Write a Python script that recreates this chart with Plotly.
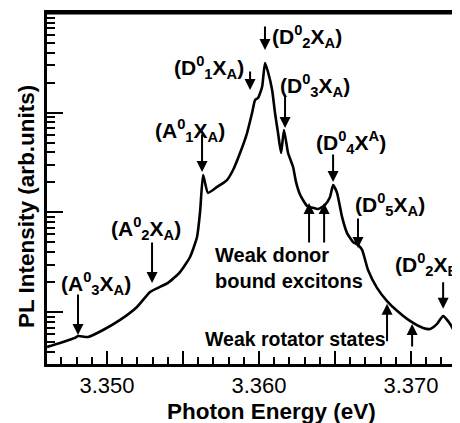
import math
import plotly.graph_objects as go

# ---- data ----
energy = [3.34605, 3.34691, 3.34789, 3.34809, 3.34875, 3.34974, 3.35086, 3.35197,
          3.35283, 3.35336, 3.35401, 3.35480, 3.35546, 3.35592, 3.35612, 3.35632,
          3.35664, 3.35724, 3.35789, 3.35829, 3.35875, 3.35921, 3.35954, 3.35974,
          3.35993, 3.36020, 3.36039, 3.36059, 3.36086, 3.36105, 3.36125, 3.36145,
          3.36164, 3.36191, 3.36224, 3.36243, 3.36270, 3.36316, 3.36355, 3.36388,
          3.36434, 3.36467, 3.36487, 3.36513, 3.36546, 3.36579, 3.36618, 3.36651,
          3.36678, 3.36717, 3.36776, 3.36842, 3.36908, 3.36993, 3.37079, 3.37125,
          3.37171, 3.37211, 3.37257, 3.37303, 3.37336]
intensity = [4.47, 4.90, 5.50, 5.75, 5.62, 6.61, 8.34, 11.25,
             15.9, 17.5, 19.6, 25.2, 35.7, 56.6, 101, 237,
             157, 180, 211, 266, 394, 625, 993, 1340,
             1403, 1811, 3150, 2560, 1690, 993, 625, 394,
             670, 394, 285, 202, 150, 116, 111, 108,
             119, 143, 188, 157, 90, 62, 50.5, 47.1,
             42.0, 26.4, 17.5, 12.9, 10.3, 8.15, 6.93, 6.76,
             7.60, 9.14, 7.60, 5.50, 3.98]

x_tick_vals = [3.350, 3.355, 3.360, 3.365, 3.370]
x_tick_text = ["3.350", "", "3.360", "", "3.370"]

# arrow tips: energy, intensity at tip
arrow_energy = [3.34809, 3.35296, 3.35625, 3.35941, 3.36039, 3.36171, 3.36487, 3.36651,
                3.36329, 3.36428, 3.36842, 3.37007, 3.37211]
arrow_tip = [5.89, 19.6, 254, 1690, 4256, 703, 202, 44,
             124, 124, 12.1, 7.6, 10.8]

labels = ["(A<sup>0</sup><sub>3</sub>X<sub>A</sub>)",
          "(A<sup>0</sup><sub>2</sub>X<sub>A</sub>)",
          "(A<sup>0</sup><sub>1</sub>X<sub>A</sub>)",
          "(D<sup>0</sup><sub>1</sub>X<sub>A</sub>)",
          "(D<sup>0</sup><sub>2</sub>X<sub>A</sub>)",
          "(D<sup>0</sup><sub>3</sub>X<sub>A</sub>)",
          "(D<sup>0</sup><sub>4</sub>X<sup>A</sup>)",
          "(D<sup>0</sup><sub>5</sub>X<sub>A</sub>)",
          "(D<sup>0</sup><sub>2</sub>X<sub>B</sub>)"]
note_donor = "Weak donor<br>bound excitons"
note_rotator = "Weak rotator states"

# ---- layout geometry (page pixels; the html body adds an 8px margin) ----
BODY = 8
PAGE_W, PAGE_H = 460, 423
P_LEFT, P_TOP, P_RIGHT, P_BOTTOM = 47, 13, 460, 364
W, H = PAGE_W - BODY, PAGE_H - BODY
ML, MT = P_LEFT - BODY, P_TOP - BODY
MR, MB = PAGE_W - P_RIGHT, PAGE_H - P_BOTTOM
PW, PH = P_RIGHT - P_LEFT, P_BOTTOM - P_TOP


def pxx(x):
    return (x - P_LEFT) / PW


def pxy(y):
    return (P_BOTTOM - y) / PH


FONT = "Liberation Sans, Arial, sans-serif"

fig = go.Figure()
fig.add_trace(go.Scatter(x=energy, y=intensity, mode="lines",
                         line=dict(color="black", width=2.6, shape="spline", smoothing=0.5),
                         hoverinfo="skip", showlegend=False))

annotations = []
arrow_len = [-42, -42, -39, -20, -25, -35, -29, -31, 41, 41, 39, 24, -28]
for e, tip, ay in zip(arrow_energy, arrow_tip, arrow_len):
    annotations.append(dict(x=e, y=math.log10(tip), xref="x", yref="y", text="",
                            showarrow=True, ax=0, ay=ay, arrowhead=2, arrowsize=1.1,
                            arrowwidth=2, arrowcolor="black", standoff=0))

label_pos = [(96, 283, "center"), (146, 228, "center"), (190, 130, "center"),
             (209, 67, "center"), (307, 37, "center"), (315, 85, "center"),
             (351, 142, "center"), (390, 204, "center"), (393, 264, "left")]
for t, (lx, ly, xa) in zip(labels, label_pos):
    annotations.append(dict(x=pxx(lx), y=pxy(ly), xref="paper", yref="paper",
                            text="<b>" + t + "</b>", showarrow=False, xanchor=xa,
                            yanchor="middle", font=dict(family=FONT, size=21, color="black")))

annotations.append(dict(x=pxx(213), y=pxy(268), xref="paper", yref="paper",
                        text="<b>" + note_donor + "</b>", showarrow=False, xanchor="left",
                        yanchor="middle", align="left",
                        font=dict(family=FONT, size=20, color="black")))
annotations.append(dict(x=pxx(295), y=pxy(339), xref="paper", yref="paper",
                        text="<b>" + note_rotator + "</b>", showarrow=False, xanchor="center",
                        yanchor="middle", font=dict(family=FONT, size=19.5, color="black")))

# axis titles
annotations.append(dict(x=pxx(271), y=pxy(411), xref="paper", yref="paper",
                        text="<b>Photon Energy (eV)</b>", showarrow=False,
                        xanchor="center", yanchor="middle",
                        font=dict(family=FONT, size=22.5, color="black")))
annotations.append(dict(x=pxx(26), y=pxy(207), xref="paper", yref="paper",
                        text="<b>PL Intensity (arb.units)</b>", showarrow=False, textangle=-90,
                        xanchor="center", yanchor="middle",
                        font=dict(family=FONT, size=22.5, color="black")))

fig.update_layout(
    width=W, height=H,
    margin=dict(l=ML, r=MR, t=MT, b=MB, pad=0),
    paper_bgcolor="white", plot_bgcolor="white",
    showlegend=False,
    annotations=annotations,
    shapes=[dict(type="line", xref="paper", yref="paper", x0=0, x1=1, y0=1, y1=1,
                 line=dict(color="black", width=3))],
    xaxis=dict(range=[3.34605, 3.37322], showline=True, linewidth=3, linecolor="black",
               mirror=True, showgrid=False, zeroline=False,
               ticks="inside", ticklen=13, tickwidth=2, tickcolor="black",
               tickmode="array", tickvals=x_tick_vals, ticktext=x_tick_text,
               tickfont=dict(family=FONT, size=22, color="black"),
               minor=dict(ticks="inside", ticklen=7, tickwidth=2, tickcolor="black",
                          tickmode="linear", tick0=3.35, dtick=0.001, showgrid=False)),
    yaxis=dict(type="log", range=[0.479, 4.0], showline=True, linewidth=3, linecolor="black",
               showgrid=False, zeroline=False, showticklabels=False,
               ticks="inside", ticklen=16, tickwidth=2, tickcolor="black", dtick=1,
               minor=dict(ticks="inside", ticklen=8, tickwidth=2, tickcolor="black",
                          dtick="D1", showgrid=False)),
)

fig.write_html("out.html")
